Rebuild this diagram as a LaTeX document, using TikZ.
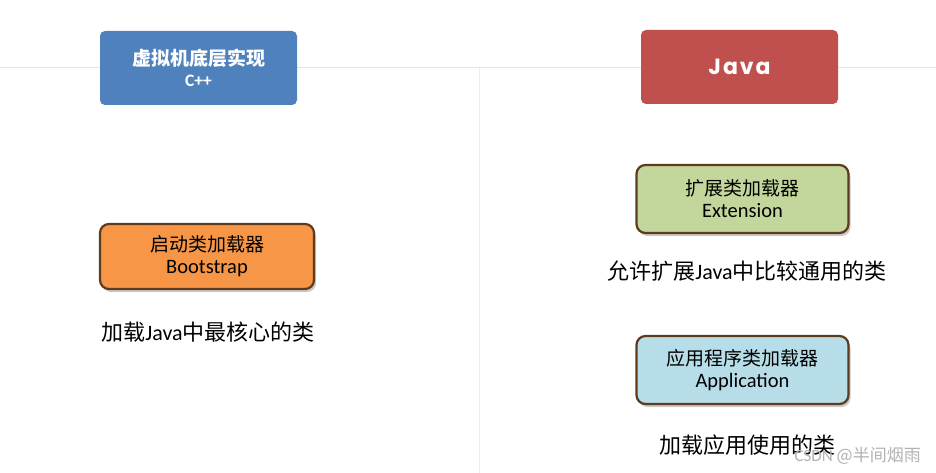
\documentclass[tikz,border=0pt]{standalone}
\usepackage{fontspec}
\setmainfont{Carlito}
\newfontfamily\cjk{Noto Sans CJK SC}
\newfontfamily\popp[LetterSpace=9]{Poppins}
\usetikzlibrary{shadows}
\definecolor{hdrblue}{HTML}{4F81BD}
\definecolor{hdrred}{HTML}{C0504D}
\definecolor{orangefill}{HTML}{F79646}
\definecolor{greenfill}{HTML}{C3D69B}
\definecolor{bluefill}{HTML}{B7DEE8}
\definecolor{brownline}{HTML}{5E3B1C}
\definecolor{faint}{HTML}{E6E6E6}
\tikzset{
  header/.style={draw=none, rounded corners=5pt, minimum width=197pt, minimum height=74pt, text=white, align=center, inner sep=0pt},
  loader/.style={draw=brownline, line width=2.2pt, rounded corners=9pt, minimum width=212pt, minimum height=68pt, align=center, inner sep=0pt, font=\fontsize{20.5}{22}\selectfont,
    drop shadow={shadow xshift=2pt, shadow yshift=-3pt, opacity=0.35, fill=black!60}},
  caption/.style={font=\fontsize{22}{24}\selectfont, inner sep=0pt},
}
\newcommand{\boxcjk}[1]{{\cjk\fontsize{19}{22}\selectfont #1}}
\begin{document}
\begin{tikzpicture}[x=1pt,y=-1pt]
\fill[white] (0,0) rectangle (936,473);
\useasboundingbox (0,0) rectangle (936,473);
\draw[faint, line width=0.8pt] (0,67) -- (936,67);
\draw[faint!70, line width=0.6pt] (479,67) -- (479,473);

\node[header, fill=hdrblue] (vm) at (198.5,68) {{\cjk\bfseries\fontsize{19}{21}\selectfont 虚拟机底层实现}\\[7pt]{\bfseries\fontsize{17.5}{18}\selectfont C++}};
\node[header, fill=hdrred] (java) at (739.5,67) {\popp\bfseries\fontsize{22}{24}\selectfont Java};

\node[loader, fill=orangefill, minimum width=214pt, minimum height=65pt] (boot) at (207,256.5) {\boxcjk{启动类加载器}\\Bootstrap};
\node[caption] (bootc) at (208,332) {{\cjk 加载}Java{\cjk 中最核心的类}};

\node[loader, fill=greenfill] (ext) at (742.5,199) {\boxcjk{扩展类加载器}\\Extension};
\node[caption] (extc) at (747,271) {{\cjk 允许扩展}Java{\cjk 中比较通用的类}};

\node[loader, fill=bluefill] (app) at (742.5,370) {\boxcjk{应用程序类加载器}\\Application};
\node[caption] (appc) at (747,445) {\cjk 加载应用使用的类};

\node[font=\fontsize{17}{18}\selectfont, text=black!30, anchor=east, inner sep=0pt] (wm) at (921,456) {CSDN {\cjk @半间烟雨}};
\end{tikzpicture}
\end{document}
